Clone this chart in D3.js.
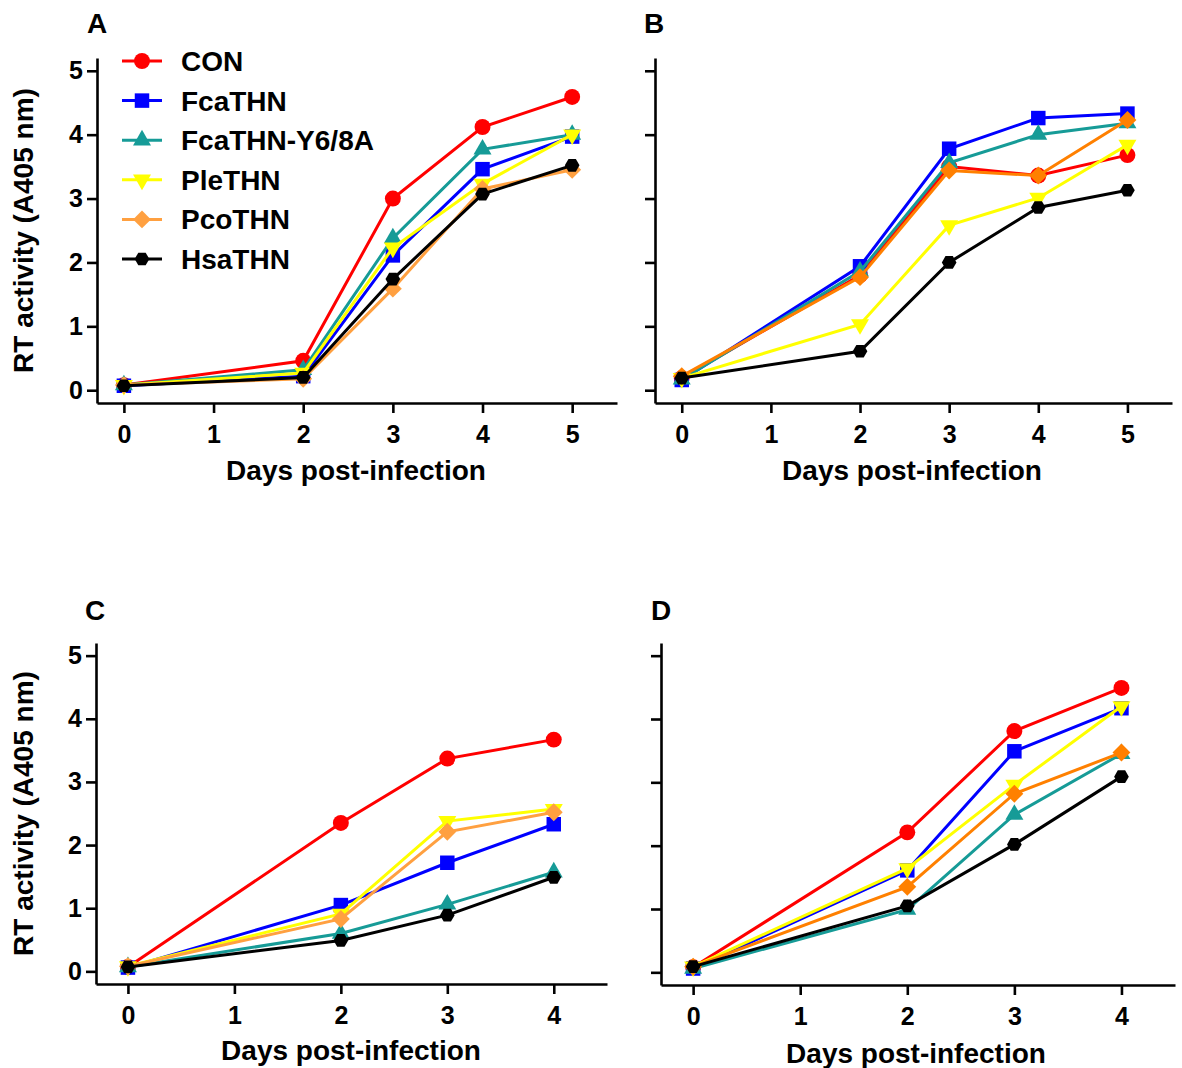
<!DOCTYPE html>
<html>
<head>
<meta charset="utf-8">
<script src="https://cdn.jsdelivr.net/npm/d3@7"></script>
<style>
  body { margin: 0; background: #fff; }
  svg text { font-family: "Liberation Sans", Arial, sans-serif; font-weight: bold; fill: #000; }
</style>
</head>
<body>
<svg id="chart" width="1182" height="1068"></svg>
<script>
// series names, legend order
var seriesNames = ["CON", "FcaTHN", "FcaTHN-Y6/8A", "PleTHN", "PcoTHN", "HsaTHN"]

// days sampled
var days5 = [0, 2, 3, 4, 5]
var days4 = [0, 2, 3, 4]
var xTicks5 = [0, 1, 2, 3, 4, 5]
var xTicks4 = [0, 1, 2, 3, 4]
var yTicks = [0, 1, 2, 3, 4, 5]

// RT activity values, one row per series (same order as seriesNames)
var valuesA = [
  [0.08, 0.46, 3.00, 4.12, 4.59],
  [0.07, 0.22, 2.11, 3.46, 3.97],
  [0.08, 0.32, 2.38, 3.77, 4.00],
  [0.08, 0.27, 2.23, 3.23, 4.00],
  [0.08, 0.18, 1.59, 3.15, 3.45],
  [0.07, 0.20, 1.74, 3.07, 3.52]
]
var valuesB = [
  [0.19, 1.80, 3.50, 3.36, 3.68],
  [0.16, 1.94, 3.78, 4.26, 4.33],
  [0.17, 1.86, 3.56, 4.00, 4.18],
  [0.19, 1.03, 2.58, 3.01, 3.84],
  [0.22, 1.77, 3.44, 3.36, 4.23],
  [0.19, 0.61, 2.00, 2.86, 3.13]
]
var valuesC = [
  [0.07, 2.35, 3.37, 3.67],
  [0.06, 1.05, 1.72, 2.33],
  [0.07, 0.60, 1.06, 1.57],
  [0.08, 0.91, 2.38, 2.57],
  [0.08, 0.83, 2.21, 2.52],
  [0.07, 0.49, 0.89, 1.49]
]
var valuesD = [
  [0.08, 2.21, 3.81, 4.49],
  [0.06, 1.61, 3.49, 4.17],
  [0.06, 0.99, 2.49, 3.45],
  [0.09, 1.64, 2.96, 4.20],
  [0.09, 1.35, 2.82, 3.47],
  [0.09, 1.05, 2.02, 3.09]
]

var svg = d3.select("#chart")

// hexagon marker (d3 has none)
var symHex = {
  draw: function(ctx, size) {
    var r = Math.sqrt(size / (3 * Math.sqrt(3) / 2))
    for (var i = 0; i < 6; i++) {
      var a = i * Math.PI / 3
      if (i == 0) ctx.moveTo(r * Math.cos(a), r * Math.sin(a))
      else ctx.lineTo(r * Math.cos(a), r * Math.sin(a))
    }
    ctx.closePath()
  }
}

var markers = [
  { type: d3.symbolCircle, size: 200, rot: 0 },
  { type: d3.symbolSquare, size: 210, rot: 0 },
  { type: d3.symbolTriangle, size: 140, rot: 0 },
  { type: d3.symbolTriangle, size: 140, rot: 180 },
  { type: d3.symbolSquare, size: 160, rot: 45 },
  { type: symHex, size: 140, rot: 0 }
]

function colorsFor(pco) {
  return ["#ff0000", "#0000ff", "#169b97", "#ffff00", pco, "#000000"]
}

var panels = [
  { letter: "A", lx: 97, ly: 33, days: days5, vals: valuesA, ticks: xTicks5, xmax: 5.5,
    left: 97, right: 617, bottom: 403, top: 58, yLabels: true, pco: "#ffa040", legend: true, titleX: 356, titleY: 480 },
  { letter: "B", lx: 654, ly: 33, days: days5, vals: valuesB, ticks: xTicks5, xmax: 5.5,
    left: 655, right: 1172, bottom: 403, top: 58, yLabels: false, pco: "#ff8000", legend: false, titleX: 912, titleY: 480 },
  { letter: "C", lx: 95, ly: 620, days: days4, vals: valuesC, ticks: xTicks4, xmax: 4.5,
    left: 96, right: 607, bottom: 984, top: 643, yLabels: true, pco: "#ffa040", legend: false, titleX: 351, titleY: 1060 },
  { letter: "D", lx: 661, ly: 620, days: days4, vals: valuesD, ticks: xTicks4, xmax: 4.5,
    left: 661, right: 1175, bottom: 985, top: 643, yLabels: false, pco: "#ff8000", legend: false, titleX: 916, titleY: 1063 }
]

panels.forEach(function(p) {
  var x = d3.scaleLinear().domain([-0.3, p.xmax]).range([p.left, p.right])
  var y = d3.scaleLinear().domain([-0.2, 5.2]).range([p.bottom, p.top])
  var colors = colorsFor(p.pco)
  var g = svg.append("g")

  // axes
  g.append("g")
    .attr("transform", "translate(0," + p.bottom + ")")
    .call(d3.axisBottom(x).tickValues(p.ticks).tickFormat(d3.format("d"))
      .tickSize(10).tickSizeOuter(0).tickPadding(12))
  g.append("g")
    .attr("transform", "translate(" + p.left + ",0)")
    .call(d3.axisLeft(y).tickValues(yTicks)
      .tickFormat(p.yLabels ? d3.format("d") : "")
      .tickSize(10).tickSizeOuter(0).tickPadding(4))
  g.selectAll(".domain, .tick line").attr("stroke", "#000").attr("stroke-width", 2.6)
  g.selectAll(".tick text").style("font-size", "25px")

  // titles
  g.append("text").attr("x", p.lx).attr("y", p.ly)
    .attr("text-anchor", "middle").style("font-size", "28px").text(p.letter)
  g.append("text").attr("x", p.titleX).attr("y", p.titleY)
    .attr("text-anchor", "middle").style("font-size", "28px").text("Days post-infection")
  if (p.yLabels) {
    g.append("text")
      .attr("transform", "translate(33," + ((y(0) + y(5)) / 2) + ") rotate(-90)")
      .attr("text-anchor", "middle").style("font-size", "28px").text("RT activity (A405 nm)")
  }

  // series
  var line = d3.line().x(function(d) { return x(d[0]) }).y(function(d) { return y(d[1]) })
  p.vals.forEach(function(vals, i) {
    var pts = p.days.map(function(d, j) { return [d, vals[j]] })
    var sg = g.append("g")
    sg.append("path").datum(pts).attr("d", line)
      .attr("fill", "none").attr("stroke", colors[i]).attr("stroke-width", 3)
    sg.selectAll("path.mk").data(pts).enter().append("path").attr("class", "mk")
      .attr("d", d3.symbol().type(markers[i].type).size(markers[i].size))
      .attr("transform", function(d) { return "translate(" + x(d[0]) + "," + y(d[1]) + ") rotate(" + markers[i].rot + ")" })
      .attr("fill", colors[i])
  })

  // legend
  if (p.legend) {
    seriesNames.forEach(function(name, i) {
      var ly = 61 + i * 39.6
      var lg = g.append("g")
      lg.append("line").attr("x1", 122).attr("x2", 162).attr("y1", ly).attr("y2", ly)
        .attr("stroke", colors[i]).attr("stroke-width", 3)
      lg.append("path")
        .attr("d", d3.symbol().type(markers[i].type).size(markers[i].size))
        .attr("transform", "translate(142," + ly + ") rotate(" + markers[i].rot + ")")
        .attr("fill", colors[i])
      lg.append("text").attr("x", 181).attr("y", ly).attr("dy", "0.36em")
        .style("font-size", "28px").text(name)
    })
  }
})
</script>
</body>
</html>
